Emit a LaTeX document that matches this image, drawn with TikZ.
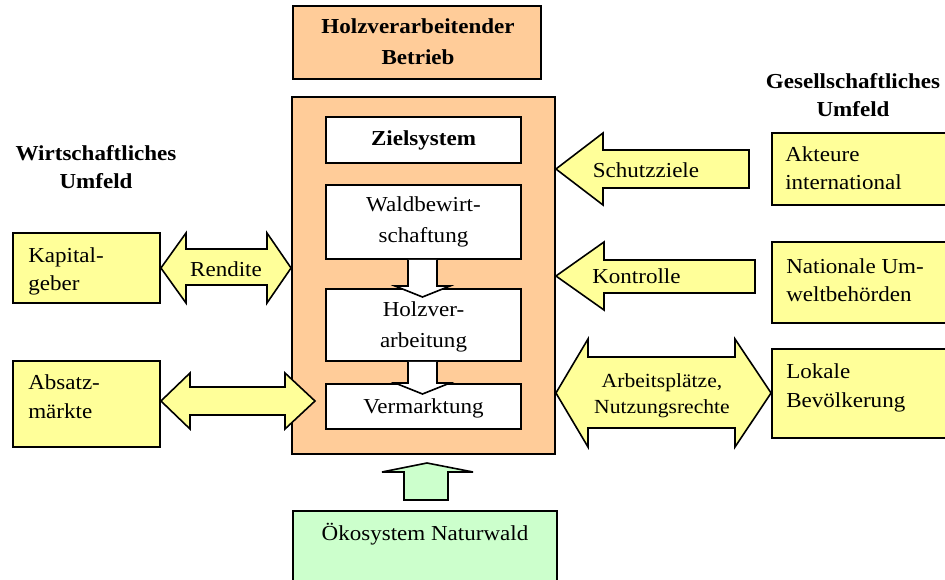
\documentclass[tikz,border=0pt]{standalone}
\usepackage{fontspec}
\setmainfont{Liberation Serif}[FakeStretch=1.08]
\usetikzlibrary{fit}
\definecolor{org}{RGB}{255,204,153}
\definecolor{ylw}{RGB}{255,255,153}
\definecolor{grn}{RGB}{204,255,204}
\tikzset{
  box/.style={draw=black, line width=1.4pt, inner sep=0pt},
  blk/.style={draw=black, line width=1.2pt, line join=miter},
  txt/.style={font=\fontsize{16}{21}\selectfont, inner sep=0pt},
  wide/.style={font=\fontsize{16}{23.5}\selectfont, inner sep=0pt},
  hd/.style={font=\fontsize{16}{21}\selectfont\bfseries, inner sep=0pt},
  hdw/.style={font=\fontsize{16}{23.5}\selectfont\bfseries, inner sep=0pt},
}
\begin{document}
\begin{tikzpicture}[x=0.75pt,y=-0.75pt]
\useasboundingbox (0,0) rectangle (945,580);
\begin{scope}
\clip (0,0) rectangle (945,580);
% top title box
\node[box, fill=org, fit={(293,6) (541,79)}] (betrieb) {};
\node[hdw, align=center, anchor=base] (betriebT) at (418,65) {Holzverarbeitender\\Betrieb};
% main box
\node[box, fill=org, fit={(292,97) (555,454)}] (main) {};
\node[box, fill=white, fit={(326,117) (521,163)}] (ziel) {};
\node[hd, anchor=base] (zielT) at (423.5,146) {Zielsystem};
\node[box, fill=white, fit={(326,185) (521,259)}] (wald) {};
\node[wide, align=center, anchor=base] (waldT) at (423.5,243) {Waldbewirt-\\schaftung};
\node[box, fill=white, fit={(326,289) (521,361)}] (holz) {};
\node[wide, align=center, anchor=base] (holzT) at (423.5,348) {Holzver-\\arbeitung};
\node[box, fill=white, fit={(326,384) (521,429)}] (verm) {};
\node[txt, anchor=base] (vermT) at (423.5,413) {Vermarktung};
% internal down arrows
\draw[blk, fill=white] (wald.south -| 408,0) -- (408,286) -- (395,286) -- (422.5,297) -- (450,286) -- (437,286) -- (wald.south -| 437,0);
\draw[blk, fill=white] (holz.south -| 408,0) -- (408,383) -- (395,383) -- (422.5,394) -- (450,383) -- (437,383) -- (holz.south -| 437,0);
% bottom
\node[box, fill=grn, fit={(293,511) (557,590)}] (oeko) {};
\node[txt, anchor=base] (oekoT) at (425,540) {Ökosystem Naturwald};
\draw[blk, fill=grn] (404,500) -- (404,472) -- (382,472) -- (427,463) -- (473,472) -- (448,472) -- (448,500) -- cycle;
% left side
\node[hd, align=center, anchor=base] (wirt) at (96,189) {Wirtschaftliches\\Umfeld};
\node[box, fill=ylw, fit={(13,233) (160,303)}] (kap) {};
\node[txt, align=left, anchor=base west] (kapT) at (28,291) {Kapital-\\geber};
\node[box, fill=ylw, fit={(13,361) (160,447)}] (abs) {};
\node[txt, align=left, anchor=base west] (absT) at (28,418) {Absatz-\\märkte};
\draw[blk, fill=ylw] (kap.east |- 0,268) -- (186,233) -- (186,249) -- (267,249) -- (267,233) -- (main.west |- 0,268) -- (267,303) -- (267,285) -- (186,285) -- (186,303) -- cycle;
\node[txt, anchor=base] (rendite) at (226,277) {Rendite};
\draw[blk, fill=ylw] (abs.east |- 0,401) -- (190,373) -- (190,387) -- (285,387) -- (285,373) -- (315,401) -- (285,429) -- (285,415) -- (190,415) -- (190,429) -- cycle;
% right side
\node[hd, align=center, anchor=base] (ges) at (853,117) {Gesellschaftliches\\Umfeld};
\node[box, fill=ylw, fit={(772,133) (960,205)}] (akt) {};
\node[txt, align=left, anchor=base west] (aktT) at (785,190) {Akteure\\international};
\node[box, fill=ylw, fit={(772,242) (960,323)}] (nat) {};
\node[txt, align=left, anchor=base west] (natT) at (786,302) {Nationale Um-\\weltbehörden};
\node[box, fill=ylw, fit={(772,349) (960,438)}] (lok) {};
\node[txt, align=left, anchor=base west] (lokT) at (786,407) {Lokale\\Bevölkerung};
\draw[blk, fill=ylw] (main.east |- 0,169) -- (603,133) -- (603,150) -- (749,150) -- (749,188) -- (603,188) -- (603,205) -- cycle;
\node[txt, anchor=base] (schutz) at (646,178) {Schutzziele};
\draw[blk, fill=ylw] (main.east |- 0,276) -- (604,242) -- (604,260) -- (755,260) -- (755,293) -- (604,293) -- (604,310) -- cycle;
\node[txt, anchor=base west] (kontr) at (592,284) {Kontrolle};
\draw[blk, fill=ylw] (main.east |- 0,393) -- (588,339) -- (588,357) -- (735,357) -- (735,339) -- (lok.west |- 0,393) -- (735,447) -- (735,428) -- (588,428) -- (588,447) -- cycle;
\node[txt, align=center, anchor=base, font=\fontsize{15}{19.5}\selectfont] (arb) at (662,413) {Arbeitsplätze,\\Nutzungsrechte};
\end{scope}
\end{tikzpicture}
\end{document}
